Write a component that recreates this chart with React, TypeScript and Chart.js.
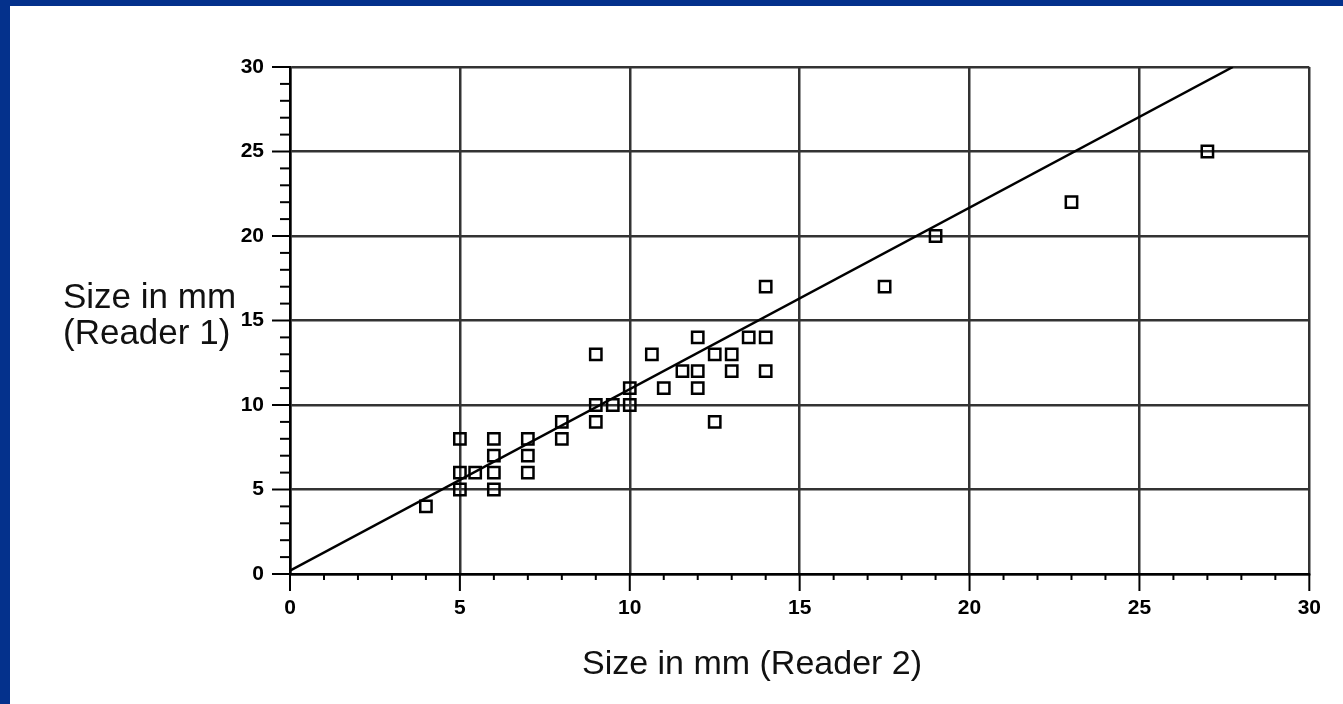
import React, { useEffect, useRef } from "react";
import { Chart, registerables } from "chart.js";

Chart.register(...registerables);

// Data (Reader 2 on x, Reader 1 on y)
const reader2 = [4, 5, 5, 5, 5.45, 6, 6, 6, 6, 7, 7, 7, 8, 8, 9, 9, 9, 9.5, 10, 10, 10.65, 11, 11.55, 12, 12, 12, 12.5, 12.5, 13, 13, 13.5, 14, 14, 14, 17.5, 19, 23, 27];
const reader1 = [4, 8, 6, 5, 6, 8, 7, 6, 5, 8, 7, 6, 9, 8, 13, 10, 9, 10, 11, 10, 13, 11, 12, 14, 12, 11, 13, 9, 13, 12, 14, 17, 14, 12, 17, 20, 22, 25];

// Agreement line end points
const lineX = [0, 27.75];
const lineY = [0.2, 30];

const axisMin = 0;
const axisMax = 30;
const majorStep = 5;
const minorValues = Array.from({ length: 31 }, (_, i) => i);

const X_TITLE = "Size in mm (Reader 2)";
const Y_TITLE = ["Size in mm", "(Reader 1)"];

const FONT = '"Liberation Sans", Arial, Helvetica, sans-serif';

export default function App() {
  const ref = useRef<HTMLCanvasElement | null>(null);

  useEffect(() => {
    const canvas = ref.current;
    if (!canvas) return;

    const extras = {
      id: "extras",
      afterDraw(chart: any) {
        const { ctx, chartArea, scales } = chart;
        const xs = scales.x;
        const ys = scales.y;
        ctx.save();
        ctx.strokeStyle = "#000";
        ctx.lineWidth = 2;
        for (const v of minorValues) {
          const major = v % majorStep === 0;
          const px = xs.getPixelForValue(v);
          ctx.beginPath();
          ctx.moveTo(px, chartArea.bottom);
          ctx.lineTo(px, chartArea.bottom + (major ? 17 : 6));
          ctx.stroke();
          const py = ys.getPixelForValue(v);
          ctx.beginPath();
          ctx.moveTo(chartArea.left, py);
          ctx.lineTo(chartArea.left - (major ? 18 : 10), py);
          ctx.stroke();
        }
        ctx.fillStyle = "#111";
        ctx.font = `35px ${FONT}`;
        ctx.textBaseline = "alphabetic";
        ctx.textAlign = "left";
        ctx.fillText(Y_TITLE[0], 53, 302);
        ctx.fillText(Y_TITLE[1], 53, 338);
        ctx.font = `34px ${FONT}`;
        ctx.textAlign = "center";
        ctx.fillText(X_TITLE, 742, 668);
        ctx.restore();
      },
    };

    const gridColor = (c: any) =>
      c.tick && c.tick.value % majorStep === 0 ? "#333" : "rgba(0,0,0,0)";

    const tickCb = (v: any) => (Number(v) % majorStep === 0 ? String(v) : "");

    const chart = new Chart(canvas, {
      type: "scatter",
      data: {
        datasets: [
          {
            label: "Line",
            type: "line",
            data: lineX.map((x, i) => ({ x, y: lineY[i] })),
            borderColor: "#000",
            borderWidth: 2.5,
            pointRadius: 0,
            fill: false,
            order: 2,
          } as any,
          {
            label: "Measurements",
            data: reader2.map((x, i) => ({ x, y: reader1[i] })),
            pointStyle: "rect",
            pointRadius: 8,
            borderColor: "#000",
            borderWidth: 2.5,
            backgroundColor: "rgba(0,0,0,0)",
            order: 1,
          },
        ],
      },
      options: {
        animation: false,
        responsive: false,
        layout: { padding: { top: 61, right: 33, left: 0, bottom: 0 } },
        plugins: { legend: { display: false }, tooltip: { enabled: false } },
        scales: {
          x: {
            type: "linear",
            min: axisMin,
            max: axisMax,
            afterFit: (s: any) => {
              s.height = 130;
            },
            border: { color: "#000", width: 2.5 },
            grid: { color: gridColor, lineWidth: 2.5, drawTicks: false },
            ticks: {
              stepSize: 1,
              autoSkip: false,
              maxRotation: 0,
              padding: 22,
              color: "#000",
              font: { family: FONT, size: 21, weight: "bold" },
              callback: tickCb,
            },
          },
          y: {
            type: "linear",
            min: axisMin,
            max: axisMax,
            afterFit: (s: any) => {
              s.width = 280;
            },
            border: { color: "#000", width: 2.5 },
            grid: { color: gridColor, lineWidth: 2.5, drawTicks: false },
            ticks: {
              stepSize: 1,
              autoSkip: false,
              padding: 26,
              color: "#000",
              font: { family: FONT, size: 21, weight: "bold" },
              callback: tickCb,
            },
          },
        },
      },
      plugins: [extras],
    } as any);

    return () => chart.destroy();
  }, []);

  return (
    <div style={{ position: "fixed", inset: 0, background: "#04318c" }}>
      <div style={{ position: "absolute", left: 10, top: 6, right: 0, bottom: 0, background: "#fff" }}>
        <canvas ref={ref} width={1333} height={698} style={{ display: "block" }} />
      </div>
    </div>
  );
}
